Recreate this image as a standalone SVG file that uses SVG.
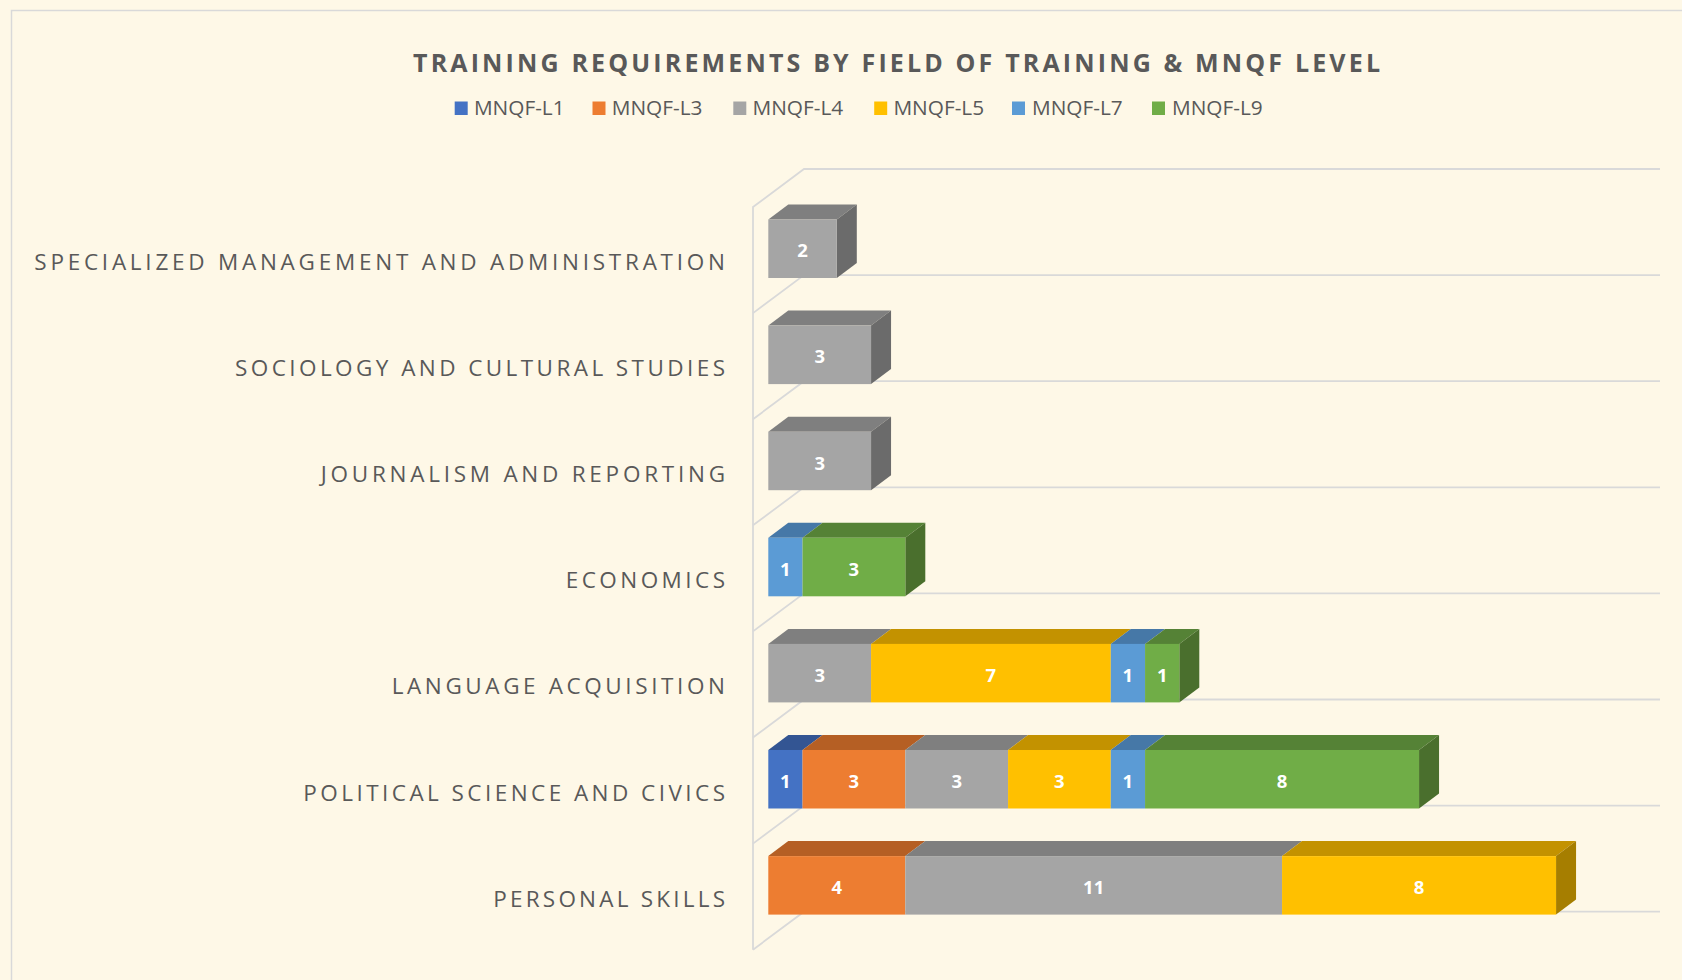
<svg xmlns="http://www.w3.org/2000/svg" width="1682" height="980" viewBox="0 0 1682 980">
<style>
text{font-family:"Open Sans","Liberation Sans",sans-serif}
.title{font-size:25px;font-weight:bold;fill:#595959}
.leg{font-size:19.5px;fill:#595959}
.cat{font-size:22.5px;fill:#595959}
.val{font-size:18.5px;font-weight:bold;fill:#FFFFFF;text-anchor:middle}
.grid{stroke:#D9D9D9;stroke-width:1.8;fill:none}
.l1f{fill:#4472C4}.l1t{fill:#335593}.l1s{fill:#2C4A80}
.l3f{fill:#ED7D31}.l3t{fill:#B55F24}.l3s{fill:#9A511F}
.l4f{fill:#A5A5A5}.l4t{fill:#7F7F7F}.l4s{fill:#6B6B6B}
.l5f{fill:#FFC000}.l5t{fill:#C39200}.l5s{fill:#A67E00}
.l7f{fill:#5B9BD5}.l7t{fill:#4678A7}.l7s{fill:#3C6690}
.l9f{fill:#70AD47}.l9t{fill:#558236}.l9s{fill:#4A6F2D}
</style>
<rect x="0" y="0" width="1682" height="980" fill="#FEF8E7"/>
<path d="M11.5 990 V10.5 H1700" fill="none" stroke="#D9D9D9" stroke-width="1.5"/>
<text class="title" x="413" y="72" textLength="967" lengthAdjust="spacing">TRAINING REQUIREMENTS BY FIELD OF TRAINING &amp; MNQF LEVEL</text>
<g id="legend">
<rect class="l1f" x="454.7" y="101.5" width="13" height="13.5"/><text class="leg" x="473.9" y="115" textLength="90.7" lengthAdjust="spacingAndGlyphs">MNQF-L1</text>
<rect class="l3f" x="592.5" y="101.5" width="13" height="13.5"/><text class="leg" x="611.7" y="115" textLength="90.7" lengthAdjust="spacingAndGlyphs">MNQF-L3</text>
<rect class="l4f" x="733.3" y="101.5" width="13" height="13.5"/><text class="leg" x="752.5" y="115" textLength="90.7" lengthAdjust="spacingAndGlyphs">MNQF-L4</text>
<rect class="l5f" x="874.2" y="101.5" width="13" height="13.5"/><text class="leg" x="893.4" y="115" textLength="90.7" lengthAdjust="spacingAndGlyphs">MNQF-L5</text>
<rect class="l7f" x="1012" y="101.5" width="13" height="13.5"/><text class="leg" x="1032" y="115" textLength="90.7" lengthAdjust="spacingAndGlyphs">MNQF-L7</text>
<rect class="l9f" x="1152" y="101.5" width="13" height="13.5"/><text class="leg" x="1172" y="115" textLength="90.7" lengthAdjust="spacingAndGlyphs">MNQF-L9</text>
</g>
<g id="connectors">
<path class="grid" d="M753 949.7 V207 L804 169 H1660"/>
<path class="grid" d="M753 313.1 L804 275.1 H1660"/>
<path class="grid" d="M753 419.2 L804 381.2 H1660"/>
<path class="grid" d="M753 525.3 L804 487.3 H1660"/>
<path class="grid" d="M753 631.4 L804 593.4 H1660"/>
<path class="grid" d="M753 737.5 L804 699.5 H1660"/>
<path class="grid" d="M753 843.6 L804 805.6 H1660"/>
<path class="grid" d="M753 949.7 L804 911.7 H1660"/>
</g>
<g id="row-specialized">
<text class="cat" x="34.3" y="270" textLength="690.7" lengthAdjust="spacing">SPECIALIZED MANAGEMENT AND ADMINISTRATION</text>
<polygon class="l4t" points="768.3,219.5 788.3,204.5 856.8,204.5 836.8,219.5"/>
<polygon class="l4s" points="836.8,219.5 856.8,204.5 856.8,263 836.8,278"/>
<rect class="l4f" x="768.3" y="219.5" width="68.5" height="58.5"/>
<text class="val" x="802.55" y="257.3">2</text>
</g>
<g id="row-sociology">
<text class="cat" x="235" y="376.1" textLength="490" lengthAdjust="spacing">SOCIOLOGY AND CULTURAL STUDIES</text>
<polygon class="l4t" points="768.3,325.6 788.3,310.6 891.05,310.6 871.05,325.6"/>
<polygon class="l4s" points="871.05,325.6 891.05,310.6 891.05,369.1 871.05,384.1"/>
<rect class="l4f" x="768.3" y="325.6" width="102.75" height="58.5"/>
<text class="val" x="819.7" y="363.4">3</text>
</g>
<g id="row-journalism">
<text class="cat" x="320.7" y="482.2" textLength="404.3" lengthAdjust="spacing">JOURNALISM AND REPORTING</text>
<polygon class="l4t" points="768.3,431.7 788.3,416.7 891.05,416.7 871.05,431.7"/>
<polygon class="l4s" points="871.05,431.7 891.05,416.7 891.05,475.2 871.05,490.2"/>
<rect class="l4f" x="768.3" y="431.7" width="102.75" height="58.5"/>
<text class="val" x="819.7" y="469.5">3</text>
</g>
<g id="row-economics">
<text class="cat" x="565.7" y="588.3" textLength="159.3" lengthAdjust="spacing">ECONOMICS</text>
<polygon class="l7t" points="768.3,537.8 788.3,522.8 822.55,522.8 802.55,537.8"/>
<polygon class="l9t" points="802.55,537.8 822.55,522.8 925.3,522.8 905.3,537.8"/>
<polygon class="l9s" points="905.3,537.8 925.3,522.8 925.3,581.3 905.3,596.3"/>
<rect class="l7f" x="768.3" y="537.8" width="34.25" height="58.5"/>
<rect class="l9f" x="802.55" y="537.8" width="102.75" height="58.5"/>
<text class="val" x="785.4" y="575.6">1</text>
<text class="val" x="853.9" y="575.6">3</text>
</g>
<g id="row-language">
<text class="cat" x="391.7" y="694.4" textLength="333.3" lengthAdjust="spacing">LANGUAGE ACQUISITION</text>
<polygon class="l4t" points="768.3,643.9 788.3,628.9 891.05,628.9 871.05,643.9"/>
<polygon class="l5t" points="871.05,643.9 891.05,628.9 1130.8,628.9 1110.8,643.9"/>
<polygon class="l7t" points="1110.8,643.9 1130.8,628.9 1165.05,628.9 1145.05,643.9"/>
<polygon class="l9t" points="1145.05,643.9 1165.05,628.9 1199.3,628.9 1179.3,643.9"/>
<polygon class="l9s" points="1179.3,643.9 1199.3,628.9 1199.3,687.4 1179.3,702.4"/>
<rect class="l4f" x="768.3" y="643.9" width="102.75" height="58.5"/>
<rect class="l5f" x="871.05" y="643.9" width="239.75" height="58.5"/>
<rect class="l7f" x="1110.8" y="643.9" width="34.25" height="58.5"/>
<rect class="l9f" x="1145.05" y="643.9" width="34.25" height="58.5"/>
<text class="val" x="819.7" y="681.7">3</text>
<text class="val" x="990.9" y="681.7">7</text>
<text class="val" x="1127.9" y="681.7">1</text>
<text class="val" x="1162.2" y="681.7">1</text>
</g>
<g id="row-political">
<text class="cat" x="303.3" y="800.5" textLength="421.7" lengthAdjust="spacing">POLITICAL SCIENCE AND CIVICS</text>
<polygon class="l1t" points="768.3,750 788.3,735 822.55,735 802.55,750"/>
<polygon class="l3t" points="802.55,750 822.55,735 925.3,735 905.3,750"/>
<polygon class="l4t" points="905.3,750 925.3,735 1028.05,735 1008.05,750"/>
<polygon class="l5t" points="1008.05,750 1028.05,735 1130.8,735 1110.8,750"/>
<polygon class="l7t" points="1110.8,750 1130.8,735 1165.05,735 1145.05,750"/>
<polygon class="l9t" points="1145.05,750 1165.05,735 1439.05,735 1419.05,750"/>
<polygon class="l9s" points="1419.05,750 1439.05,735 1439.05,793.5 1419.05,808.5"/>
<rect class="l1f" x="768.3" y="750" width="34.25" height="58.5"/>
<rect class="l3f" x="802.55" y="750" width="102.75" height="58.5"/>
<rect class="l4f" x="905.3" y="750" width="102.75" height="58.5"/>
<rect class="l5f" x="1008.05" y="750" width="102.75" height="58.5"/>
<rect class="l7f" x="1110.8" y="750" width="34.25" height="58.5"/>
<rect class="l9f" x="1145.05" y="750" width="274" height="58.5"/>
<text class="val" x="785.4" y="787.8">1</text>
<text class="val" x="853.9" y="787.8">3</text>
<text class="val" x="956.7" y="787.8">3</text>
<text class="val" x="1059.4" y="787.8">3</text>
<text class="val" x="1127.9" y="787.8">1</text>
<text class="val" x="1282.05" y="787.8">8</text>
</g>
<g id="row-personal">
<text class="cat" x="493.3" y="906.6" textLength="231.7" lengthAdjust="spacing">PERSONAL SKILLS</text>
<polygon class="l3t" points="768.3,856.1 788.3,841.1 925.3,841.1 905.3,856.1"/>
<polygon class="l4t" points="905.3,856.1 925.3,841.1 1302.05,841.1 1282.05,856.1"/>
<polygon class="l5t" points="1282.05,856.1 1302.05,841.1 1576.05,841.1 1556.05,856.1"/>
<polygon class="l5s" points="1556.05,856.1 1576.05,841.1 1576.05,899.6 1556.05,914.6"/>
<rect class="l3f" x="768.3" y="856.1" width="137" height="58.5"/>
<rect class="l4f" x="905.3" y="856.1" width="376.75" height="58.5"/>
<rect class="l5f" x="1282.05" y="856.1" width="274" height="58.5"/>
<text class="val" x="836.8" y="893.9">4</text>
<text class="val" x="1093.7" y="893.9">11</text>
<text class="val" x="1419.05" y="893.9">8</text>
</g>
</svg>
